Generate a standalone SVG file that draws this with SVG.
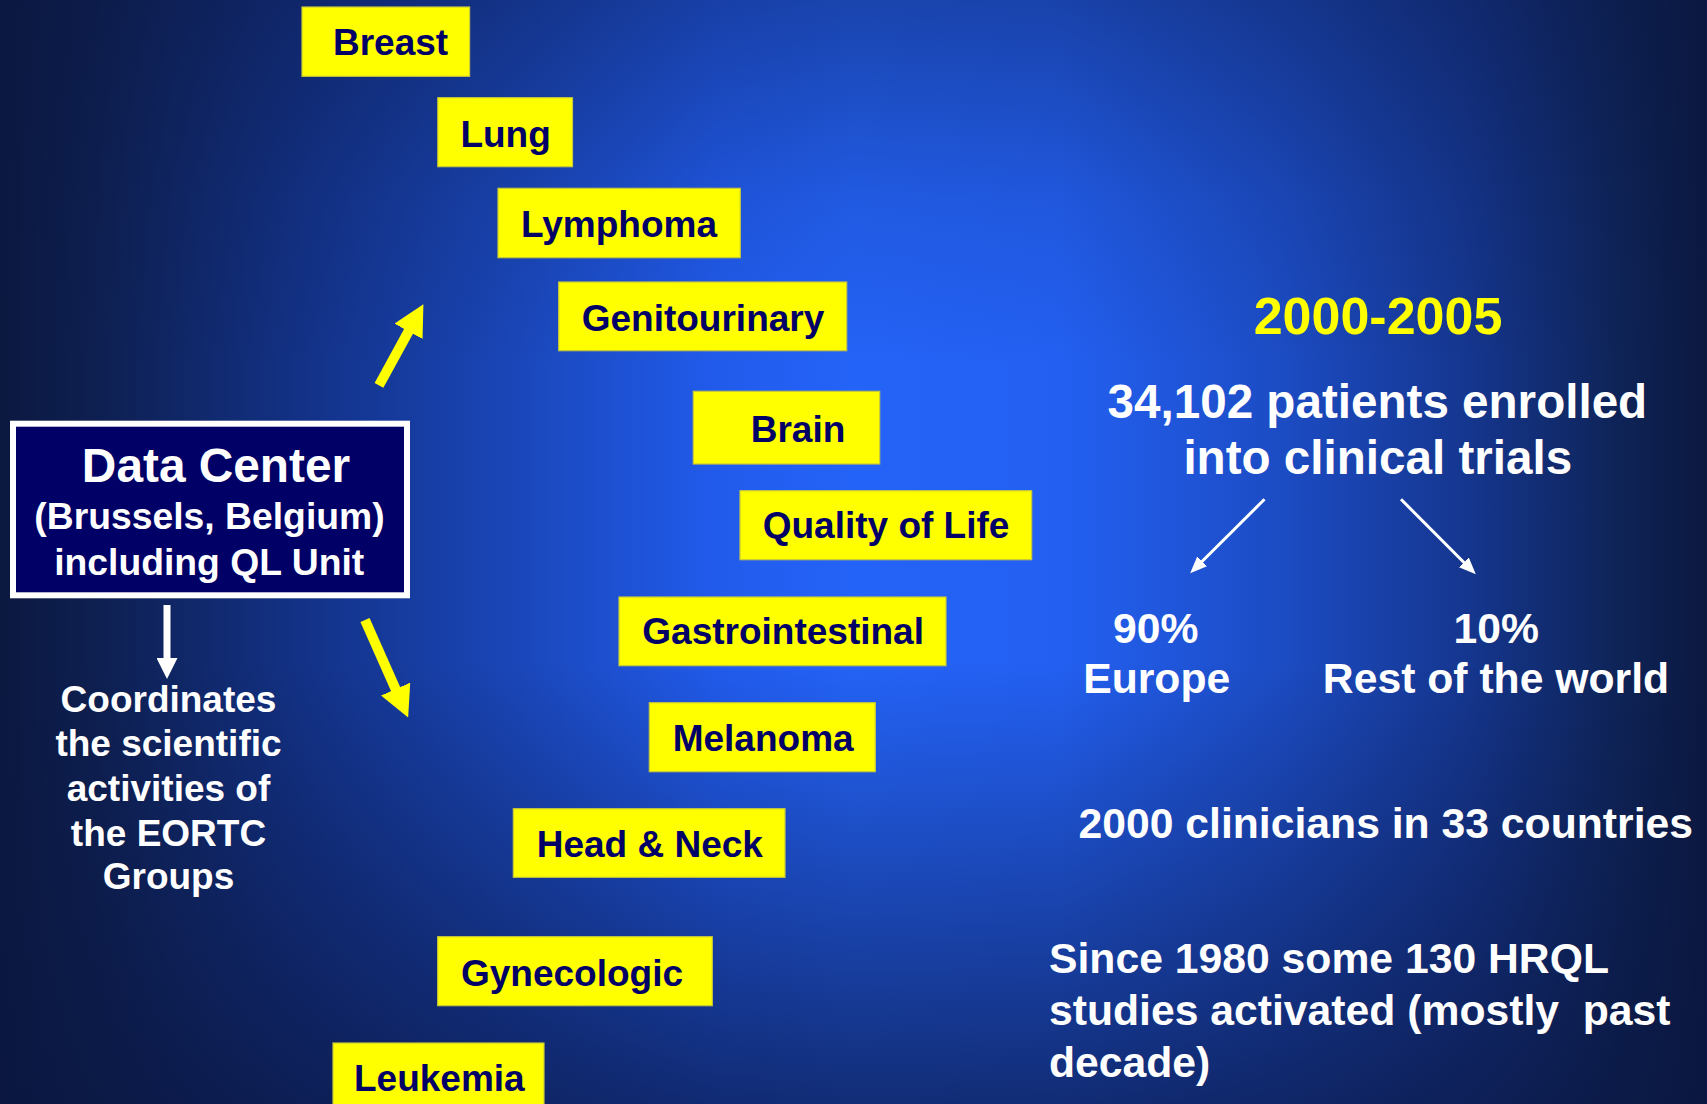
<svg xmlns="http://www.w3.org/2000/svg" width="1707" height="1104" viewBox="0 0 1707 1104">
<style>
text{font-family:"Liberation Sans",Arial,sans-serif;font-weight:bold}
.box{fill:#FFFF00;stroke:#c8c83a;stroke-width:1.2}
.lbl{fill:#000066;font-size:37px}
.w{fill:#FFFFFF}
.c{text-anchor:middle}
.r{font-size:42.7px}
</style>
<defs>
<linearGradient id="bgh" x1="0" y1="0" x2="1" y2="0">
<stop offset="0" stop-color="#0b1840"/>
<stop offset="0.06" stop-color="#0e2052"/>
<stop offset="0.18" stop-color="#133288"/>
<stop offset="0.3" stop-color="#1a46b8"/>
<stop offset="0.42" stop-color="#215bec"/>
<stop offset="0.5" stop-color="#2463f7"/>
<stop offset="0.62" stop-color="#2360f2"/>
<stop offset="0.75" stop-color="#1c4cc4"/>
<stop offset="0.86" stop-color="#15368f"/>
<stop offset="0.95" stop-color="#0e2356"/>
<stop offset="1" stop-color="#0b1840"/>
</linearGradient>
<linearGradient id="bgv" x1="0" y1="0" x2="0" y2="1">
<stop offset="0" stop-color="#0a1640" stop-opacity="0.4"/>
<stop offset="0.18" stop-color="#0a1640" stop-opacity="0.12"/>
<stop offset="0.33" stop-color="#0a1640" stop-opacity="0"/>
<stop offset="0.6" stop-color="#0a1640" stop-opacity="0"/>
<stop offset="0.8" stop-color="#0a1640" stop-opacity="0.35"/>
<stop offset="1" stop-color="#0a1640" stop-opacity="0.7"/>
</linearGradient>
<marker id="hy" viewBox="0 -16 31 32" refX="1" refY="0" markerWidth="31" markerHeight="32" markerUnits="userSpaceOnUse" orient="auto">
<path d="M0,-16 L31,0 L0,16 z" fill="#FFFF00"/>
</marker>
<marker id="hw" viewBox="0 -10.5 21 21" refX="1" refY="0" markerWidth="21" markerHeight="21" markerUnits="userSpaceOnUse" orient="auto">
<path d="M0,-10.5 L21,0 L0,10.5 z" fill="#FFFFFF"/>
</marker>
<marker id="hs" viewBox="0 -7 17 14" refX="1" refY="0" markerWidth="17" markerHeight="14" markerUnits="userSpaceOnUse" orient="auto">
<path d="M0,-7 L17,0 L0,7 z" fill="#FFFFFF"/>
</marker>
</defs>
<rect x="0" y="0" width="1707" height="1104" fill="url(#bgh)"/>
<rect x="0" y="0" width="1707" height="1104" fill="url(#bgv)"/>

<g id="connectors">
<line x1="379" y1="385.3" x2="409" y2="330.5" stroke="#FFFF00" stroke-width="10" marker-end="url(#hy)"/>
<line x1="365" y1="620" x2="396" y2="690" stroke="#FFFF00" stroke-width="10" marker-end="url(#hy)"/>
<line x1="167" y1="605" x2="167" y2="659" stroke="#FFFFFF" stroke-width="7" marker-end="url(#hw)"/>
<line x1="1264.5" y1="499.3" x2="1201.5" y2="562" stroke="#FFFFFF" stroke-width="3" marker-end="url(#hs)"/>
<line x1="1401" y1="499.3" x2="1464.5" y2="563" stroke="#FFFFFF" stroke-width="3" marker-end="url(#hs)"/>
</g>

<g id="data-center">
<rect x="13" y="423.7" width="394" height="171.6" fill="#000066" stroke="#FFFFFF" stroke-width="6"/>
<text class="w c" x="216" y="482.3" font-size="47.8">Data Center</text>
<text class="w c" x="209.5" y="529.3" font-size="37.3">(Brussels, Belgium)</text>
<text class="w c" x="209.2" y="575" font-size="37.3">including QL Unit</text>
</g>

<g id="coordinates">
<text class="w c" font-size="37" x="168.5" y="711.7">Coordinates</text>
<text class="w c" font-size="37" x="168.5" y="755.7">the scientific</text>
<text class="w c" font-size="37" x="168.5" y="800.7">activities of</text>
<text class="w c" font-size="37" x="168.5" y="845.7">the EORTC</text>
<text class="w c" font-size="37" x="168.5" y="889">Groups</text>
</g>

<g id="breast"><rect class="box" x="302" y="7" width="167.6" height="69.3"/><text class="lbl" x="333" y="55">Breast</text></g>
<g id="lung"><rect class="box" x="437.8" y="97.7" width="134.7" height="69"/><text class="lbl" x="460.4" y="146.7">Lung</text></g>
<g id="lymphoma"><rect class="box" x="498" y="188.3" width="242.3" height="69.4"/><text class="lbl" x="521" y="237.3">Lymphoma</text></g>
<g id="genitourinary"><rect class="box" x="558.7" y="282" width="288" height="68.7"/><text class="lbl" x="581.7" y="330.7">Genitourinary</text></g>
<g id="brain"><rect class="box" x="693.3" y="391.3" width="186.4" height="72.7"/><text class="lbl" x="750.7" y="441.7">Brain</text></g>
<g id="quality-of-life"><rect class="box" x="740" y="490.7" width="291.7" height="69"/><text class="lbl" x="762.7" y="538.3">Quality of Life</text></g>
<g id="gastrointestinal"><rect class="box" x="619" y="597" width="327" height="68.7"/><text class="lbl" x="642.3" y="644.3">Gastrointestinal</text></g>
<g id="melanoma"><rect class="box" x="649.3" y="702.7" width="226" height="69"/><text class="lbl" x="672.7" y="750.7">Melanoma</text></g>
<g id="head-neck"><rect class="box" x="513.3" y="808.7" width="271.7" height="68.6"/><text class="lbl" x="536.7" y="856.7">Head &amp; Neck</text></g>
<g id="gynecologic"><rect class="box" x="437.7" y="936.7" width="274.6" height="69"/><text class="lbl" x="461" y="986">Gynecologic</text></g>
<g id="leukemia"><rect class="box" x="333" y="1043" width="211" height="70"/><text class="lbl" x="354" y="1090.7">Leukemia</text></g>

<g id="stats">
<text class="c" x="1378" y="334" font-size="52" fill="#FFFF00">2000-2005</text>
<text class="w c" x="1377.4" y="418.3" font-size="47.6">34,102 patients enrolled</text>
<text class="w c" x="1377.8" y="474" font-size="47.6">into clinical trials</text>
</g>
<g id="europe">
<text class="w c r" x="1155.8" y="642.7">90%</text>
<text class="w c r" x="1156.7" y="693.3">Europe</text>
</g>
<g id="rest-of-world">
<text class="w c r" x="1496.3" y="642.7">10%</text>
<text class="w c r" x="1496" y="693.3">Rest of the world</text>
</g>
<g id="clinicians">
<text class="w r" x="1078.5" y="838.3">2000 clinicians in 33 countries</text>
</g>
<g id="hrql">
<text class="w r" x="1049" y="972.7">Since 1980 some 130 HRQL</text>
<text class="w r" x="1049" y="1025" style="white-space:pre">studies activated (mostly  past</text>
<text class="w r" x="1049" y="1076.7">decade)</text>
</g>
</svg>
